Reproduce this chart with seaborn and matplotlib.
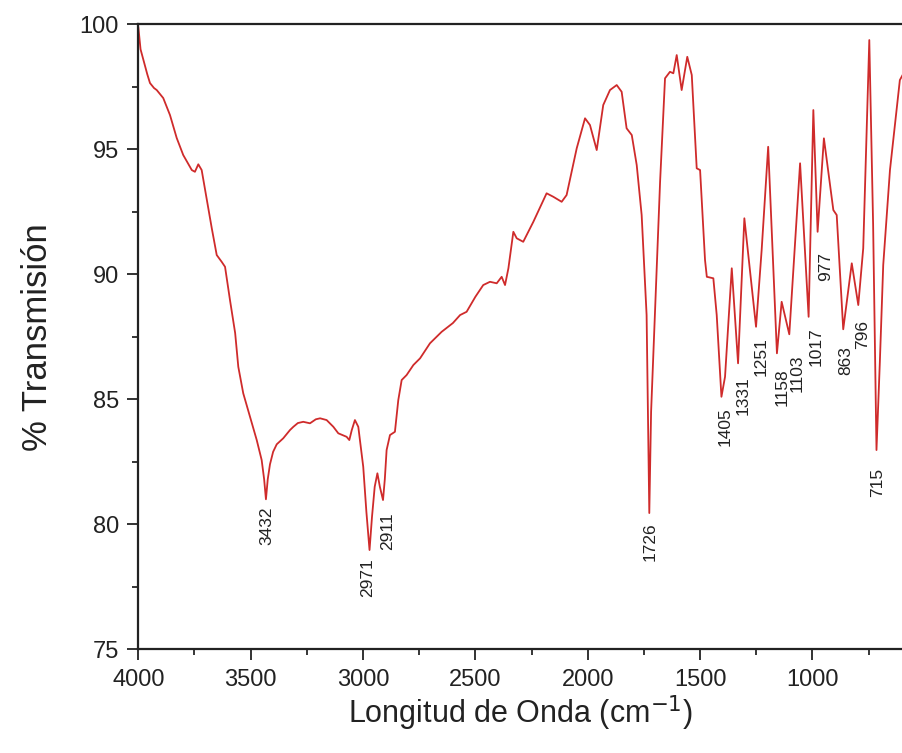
import numpy as np
import pandas as pd
import matplotlib
matplotlib.use("Agg")
import matplotlib.pyplot as plt
from matplotlib.ticker import MultipleLocator
import seaborn as sns

# FTIR spectrum: wavenumber (cm^-1) and % transmission
wavenumber = [
    4000, 3990, 3978, 3960, 3948, 3930, 3918, 3889, 3859, 3829, 3800, 3762,
    3748, 3733, 3718, 3696, 3673, 3651, 3629, 3614, 3592, 3569, 3555, 3533,
    3503, 3473, 3451, 3440, 3432, 3424, 3414, 3400, 3384, 3355, 3325, 3310,
    3290, 3266, 3236, 3210, 3191, 3162, 3132, 3110, 3073, 3061, 3050, 3036,
    3021, 2999, 2985, 2971, 2960, 2948, 2936, 2925, 2911, 2903, 2895, 2880,
    2858, 2843, 2828, 2806, 2776, 2746, 2702, 2650, 2600, 2568, 2539, 2500,
    2465, 2435, 2405, 2383, 2368, 2353, 2331, 2316, 2287, 2242, 2183, 2153,
    2116, 2094, 2049, 2012, 1990, 1960, 1931, 1901, 1871, 1849, 1827, 1804,
    1782, 1760, 1738, 1732, 1726, 1718, 1701, 1678, 1656, 1634, 1619, 1604,
    1582, 1557, 1537, 1515, 1500, 1478, 1470, 1441, 1426, 1405, 1389, 1359,
    1331, 1303, 1251, 1226, 1197, 1158, 1137, 1103, 1055, 1017, 996, 977,
    949, 907, 892, 863, 825, 796, 774, 747, 730, 715, 700, 685, 655, 611, 597,
]
transmission = [
    99.9, 99.0, 98.6, 98.0, 97.65, 97.45, 97.37, 97.05, 96.37, 95.45, 94.77, 94.17,
    94.1, 94.4, 94.17, 93.04, 91.84, 90.77, 90.5, 90.3, 88.97, 87.65, 86.3, 85.24,
    84.3, 83.37, 82.57, 81.8, 81.0, 81.8, 82.4, 82.9, 83.2, 83.44, 83.77, 83.9,
    84.05, 84.1, 84.04, 84.2, 84.24, 84.17, 83.9, 83.64, 83.5, 83.37, 83.77, 84.17,
    83.9, 82.3, 80.5, 78.97, 80.3, 81.5, 82.04, 81.5, 80.97, 81.8, 82.97, 83.57,
    83.7, 84.97, 85.77, 85.97, 86.37, 86.64, 87.24, 87.7, 88.05, 88.37, 88.5, 89.1,
    89.57, 89.7, 89.64, 89.9, 89.57, 90.24, 91.7, 91.44, 91.3, 92.1, 93.24, 93.1,
    92.9, 93.17, 95.04, 96.24, 95.97, 94.97, 96.77, 97.37, 97.57, 97.3, 95.84, 95.57,
    94.37, 92.37, 88.37, 84.5, 80.45, 84.5, 88.37, 93.7, 97.84, 98.1, 98.04, 98.77,
    97.37, 98.7, 97.97, 94.24, 94.17, 90.57, 89.9, 89.84, 88.37, 85.1, 85.9, 90.24,
    86.44, 92.24, 87.9, 90.97, 95.1, 86.84, 88.9, 87.6, 94.44, 88.3, 96.57, 91.7,
    95.44, 92.57, 92.37, 87.8, 90.44, 88.77, 91.04, 99.37, 92.0, 82.97, 86.5, 90.37,
    94.17, 97.77, 98.0,
]

# Band positions annotated on the spectrum
peak_labels = [3432, 2971, 2911, 1726, 1405, 1331, 1251, 1158, 1103, 1017, 977, 863, 796, 715]
# label placement: (horizontal shift, gap below trough) in pixels
label_offsets = [(1, 7), (-2, 8), (5, 12), (1, 9), (4, 10), (5, 13), (5, 10),
                 (5, 15), (8, 20), (8, 10), (8, 20), (3, 17), (4, 15), (1, 18)]

df = pd.DataFrame({"wn": wavenumber, "T": transmission})

sns.set_theme(style="ticks")
plt.rcParams["font.family"] = ["Liberation Sans", "DejaVu Sans"]

fig = plt.figure(figsize=(9.03, 7.53), dpi=100)
ax = fig.add_axes([138.3 / 903, 1 - 649.3 / 753, (903 - 138.3) / 903, (649.3 - 24.3) / 753])

sns.lineplot(data=df, x="wn", y="T", ax=ax, color="#cf2b2b", linewidth=1.3,
             estimator=None, sort=False)

ax.set_xlim(4000, 597)
ax.set_ylim(75, 100)
ax.xaxis.set_major_locator(MultipleLocator(500))
ax.xaxis.set_minor_locator(MultipleLocator(250))
ax.yaxis.set_major_locator(MultipleLocator(5))
ax.yaxis.set_minor_locator(MultipleLocator(2.5))
ax.tick_params(which="major", direction="out", length=8, width=1.3, labelsize=17,
               colors="#222222", pad=6)
ax.tick_params(which="minor", direction="out", length=4, width=1.3)
ax.tick_params(top=False, right=False)

for side in ["left", "bottom", "top"]:
    ax.spines[side].set_linewidth(1.6)
    ax.spines[side].set_color("#222222")
ax.spines["right"].set_visible(False)

ax.set_xlabel("Longitud de Onda (cm$^{-1}$)", fontsize=22, color="#222222", labelpad=2)
ax.set_ylabel("% Transmisión", fontsize=25, color="#222222", labelpad=18)

for wn, (dx, gap) in zip(peak_labels, label_offsets):
    t = np.interp(wn, wavenumber[::-1], transmission[::-1])
    ax.annotate(str(wn), xy=(wn, t), xytext=(dx, -gap), textcoords="offset pixels",
                rotation=90, ha="center", va="top", fontsize=12.5, color="#222222")

fig.savefig("out.png", dpi=100, facecolor="white")
